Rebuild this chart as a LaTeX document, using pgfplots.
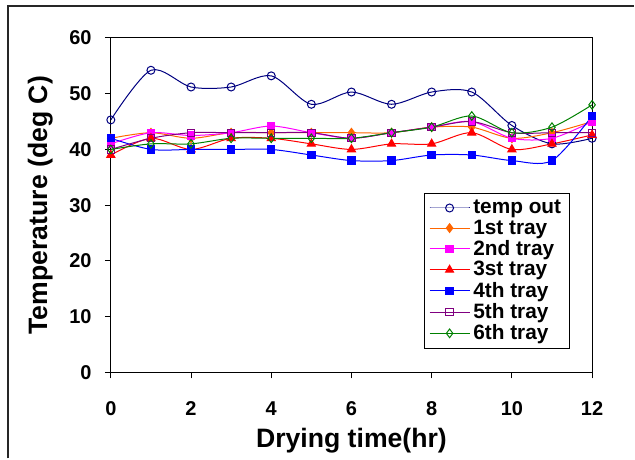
\documentclass[border=0pt]{standalone}
\usepackage{fontspec}
\setmainfont{Liberation Sans}
\usepackage{pgfplots}
\pgfplotsset{compat=1.18}
\definecolor{navyline}{RGB}{0,0,128}
\definecolor{orangeline}{RGB}{255,102,0}
\definecolor{pinkline}{RGB}{255,0,255}
\definecolor{redline}{RGB}{255,0,0}
\definecolor{blueline}{RGB}{0,0,255}
\definecolor{purpleline}{RGB}{128,0,128}
\definecolor{greenline}{RGB}{0,128,0}
\begin{document}
\begin{tikzpicture}
\begin{axis}[
    at={(0,0)}, anchor=south west,
    scale only axis,
    width=289.2pt, height=201pt,
    xmin=0, xmax=12, ymin=0, ymax=60,
    xtick={0,2,...,12}, ytick={0,10,...,60},
    tick pos=left, tick align=outside,
    major tick length=3.6pt,
    tick style={black, line width=0.6pt},
    axis line style={line width=0.6pt},
    /pgf/number format/assume math mode=true,
    ticklabel style={font=\fontsize{12}{14}\selectfont\bfseries},
    xticklabel style={yshift=-10.5pt},
    yticklabel style={xshift=-4.5pt},
    xlabel={Drying time(hr)},
    ylabel={Temperature (deg C)},
    label style={font=\fontsize{16}{19}\selectfont\bfseries},
    xlabel style={yshift=-0.5pt},
    ylabel style={yshift=3pt},
    every axis plot/.append style={smooth, tension=0.5, line width=0.6pt},
    legend style={at={(0.954,0.537)}, anchor=north east,
        draw=black, line width=0.6pt,
        font=\fontsize{12.5}{14}\selectfont\bfseries,
        row sep=-1.8pt, inner xsep=3pt, inner ysep=2pt},
    legend cell align=left,
    legend image code/.code={
        \draw[mark repeat=2, mark phase=2] plot coordinates {(0cm,0cm) (0.42cm,0cm) (0.84cm,0cm)};},
]
\addplot[navyline, mark=o, mark size=2.4pt, mark options={fill=white, solid}]
coordinates {(0,45.3)(1,54.2)(2,51.2)(3,51.2)(4,53.2)(5,48.1)(6,50.3)(7,48.1)(8,50.3)(9,50.3)(10,44.3)(11,41)(12,42)};
\addlegendentry{temp out}
\addplot[orangeline, mark=diamond*, mark size=2.6pt, mark options={fill=orangeline}]
coordinates {(0,42)(1,43)(2,42)(3,43)(4,43)(5,43)(6,43)(7,43)(8,44)(9,44)(10,42)(11,43)(12,45)};
\addlegendentry{1st tray}
\addplot[pinkline, mark=square*, mark size=2.2pt, mark options={fill=pinkline}]
coordinates {(0,41)(1,43)(2,42.5)(3,43)(4,44.2)(5,43)(6,42)(7,43)(8,44)(9,45)(10,42)(11,42)(12,45)};
\addlegendentry{2nd tray}
\addplot[redline, mark=triangle*, mark size=2.8pt, mark options={fill=redline}]
coordinates {(0,39)(1,42)(2,40)(3,42)(4,42)(5,41)(6,40)(7,41)(8,41)(9,43)(10,40)(11,41)(12,42.6)};
\addlegendentry{3st tray}
\addplot[blueline, mark=square*, mark size=2.2pt, mark options={fill=blueline}]
coordinates {(0,42)(1,40)(2,40)(3,40)(4,40)(5,39)(6,38)(7,38)(8,39)(9,39)(10,38)(11,38)(12,46)};
\addlegendentry{4th tray}
\addplot[purpleline, mark=square, mark size=2.2pt, mark options={fill=white}]
coordinates {(0,40)(1,42)(2,43)(3,43)(4,43)(5,43)(6,42)(7,43)(8,44)(9,45)(10,43)(11,43)(12,43)};
\addlegendentry{5th tray}
\addplot[greenline, mark=diamond, mark size=2.6pt, mark options={fill=white}]
coordinates {(0,40)(1,41)(2,41)(3,42)(4,42)(5,42)(6,42)(7,43)(8,44)(9,46)(10,43)(11,44)(12,48)};
\addlegendentry{6th tray}
\end{axis}
\draw[black!85, line width=1.2pt] (-61.8pt,-51.6pt) -- (-61.8pt,220.2pt) -- (314.4pt,220.2pt);
\useasboundingbox (-66.6pt,-51.6pt) rectangle (314.4pt,223.8pt);
\end{tikzpicture}
\end{document}
